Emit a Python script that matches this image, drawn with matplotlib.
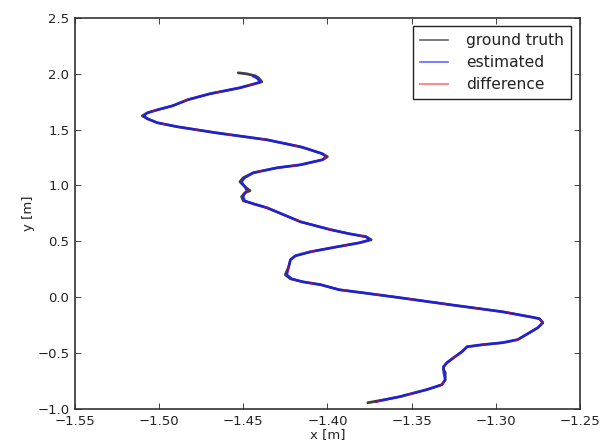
import matplotlib
matplotlib.use("Agg")
import matplotlib.pyplot as plt
from matplotlib.lines import Line2D

# ground truth trajectory, bottom start -> top end
gt_x = [-1.376, -1.366, -1.357, -1.341, -1.332, -1.330, -1.330, -1.331, -1.331,
        -1.329, -1.325, -1.320, -1.317, -1.308, -1.296, -1.287, -1.280, -1.275,
        -1.272, -1.274, -1.280, -1.296, -1.327, -1.357, -1.379, -1.393, -1.404,
        -1.415, -1.422, -1.425, -1.423, -1.422, -1.419, -1.410, -1.394, -1.381,
        -1.374, -1.377, -1.387, -1.398, -1.416, -1.426, -1.436, -1.444, -1.450,
        -1.451, -1.449, -1.446, -1.449, -1.452, -1.450, -1.444, -1.430, -1.416,
        -1.403, -1.400, -1.403, -1.412, -1.416, -1.436, -1.466, -1.489, -1.501,
        -1.507, -1.510, -1.507, -1.501, -1.492, -1.483, -1.470, -1.452, -1.441,
        -1.439, -1.441, -1.443, -1.448, -1.453]
gt_y = [-0.944, -0.917, -0.890, -0.827, -0.783, -0.738, -0.675, -0.648, -0.622,
        -0.586, -0.541, -0.487, -0.443, -0.425, -0.407, -0.380, -0.318, -0.273,
        -0.228, -0.192, -0.174, -0.130, -0.067, -0.004, 0.040, 0.067, 0.112,
        0.139, 0.165, 0.201, 0.273, 0.335, 0.371, 0.407, 0.452, 0.487,
        0.514, 0.541, 0.568, 0.604, 0.675, 0.738, 0.801, 0.836, 0.863,
        0.899, 0.935, 0.953, 0.988, 1.033, 1.069, 1.114, 1.158, 1.185,
        1.230, 1.257, 1.284, 1.328, 1.346, 1.409, 1.471, 1.525, 1.561,
        1.597, 1.623, 1.650, 1.677, 1.713, 1.767, 1.820, 1.874, 1.919,
        1.928, 1.963, 1.981, 1.999, 2.008]

# estimated trajectory, almost on top of the ground truth
est_x = [-1.371, -1.366, -1.357, -1.341, -1.332, -1.330, -1.331, -1.331, -1.331,
         -1.329, -1.325, -1.320, -1.317, -1.308, -1.296, -1.287, -1.280, -1.275,
         -1.272, -1.274, -1.280, -1.296, -1.327, -1.357, -1.379, -1.393, -1.404,
         -1.415, -1.421, -1.424, -1.423, -1.422, -1.419, -1.410, -1.394, -1.381,
         -1.375, -1.377, -1.387, -1.398, -1.416, -1.426, -1.436, -1.444, -1.449,
         -1.450, -1.449, -1.448, -1.449, -1.451, -1.449, -1.444, -1.430, -1.416,
         -1.403, -1.401, -1.403, -1.412, -1.416, -1.436, -1.466, -1.489, -1.501,
         -1.507, -1.509, -1.507, -1.501, -1.492, -1.483, -1.470, -1.452, -1.442,
         -1.440, -1.442, -1.444]
est_y = [-0.935, -0.917, -0.890, -0.827, -0.783, -0.738, -0.675, -0.648, -0.622,
         -0.586, -0.541, -0.487, -0.443, -0.425, -0.407, -0.380, -0.318, -0.273,
         -0.228, -0.192, -0.174, -0.130, -0.067, -0.004, 0.040, 0.067, 0.112,
         0.139, 0.165, 0.201, 0.273, 0.335, 0.371, 0.407, 0.452, 0.487,
         0.514, 0.541, 0.568, 0.604, 0.675, 0.738, 0.801, 0.836, 0.863,
         0.899, 0.930, 0.950, 0.988, 1.033, 1.069, 1.114, 1.158, 1.185,
         1.230, 1.257, 1.284, 1.328, 1.346, 1.409, 1.471, 1.525, 1.561,
         1.597, 1.623, 1.650, 1.677, 1.713, 1.767, 1.820, 1.874, 1.915,
         1.928, 1.960, 1.975]

x_ticks = [-1.55, -1.50, -1.45, -1.40, -1.35, -1.30, -1.25]
y_ticks = [-1.0, -0.5, 0.0, 0.5, 1.0, 1.5, 2.0, 2.5]

fig = plt.figure(figsize=(6.01, 4.46), dpi=100)
ax = fig.add_axes([0.1248, 0.083, 0.840, 0.877])

ax.plot(gt_x, gt_y, color="k", lw=2.0, alpha=0.75,
        solid_joinstyle="round", solid_capstyle="round")
ax.plot(est_x, est_y, color="#1a1aff", lw=1.6, alpha=0.9,
        solid_joinstyle="round")
ax.plot(est_x, est_y, color="r", lw=1.5, alpha=0.5, dashes=(2, 14))

ax.set_xlim(-1.55, -1.25)
ax.set_ylim(-1.0, 2.5)
ax.set_xticks(x_ticks)
ax.set_yticks(y_ticks)
ax.set_xticklabels([f"{t:.2f}".replace("-", "\u2212") for t in x_ticks])
ax.set_yticklabels([f"{t:.1f}".replace("-", "\u2212") for t in y_ticks])
ax.tick_params(direction="in", top=True, right=True, length=4, width=0.6,
               labelsize=9.5, colors="#222222", pad=4)
for s in ax.spines.values():
    s.set_linewidth(1.2)
    s.set_color("#333333")

ax.set_xlabel("x [m]", fontsize=9.5, color="#222222", labelpad=0)
ax.set_ylabel("y [m]", fontsize=9.5, color="#222222", labelpad=2)

handles = [
    Line2D([], [], color="k", lw=1.2, alpha=0.6),
    Line2D([], [], color="b", lw=1.2, alpha=0.6),
    Line2D([], [], color="r", lw=1.5, alpha=0.45),
]
leg = ax.legend(handles, ["ground truth", "estimated", "difference"],
                loc="upper right", fontsize=11.2, fancybox=False,
                handlelength=1.8, handletextpad=1.2, labelspacing=0.45,
                borderpad=0.45, borderaxespad=0.55, framealpha=1)
leg.get_frame().set_edgecolor("#222222")
leg.get_frame().set_linewidth(1.0)
for t in leg.get_texts():
    t.set_color("#222222")

fig.savefig("out.png", dpi=100)
